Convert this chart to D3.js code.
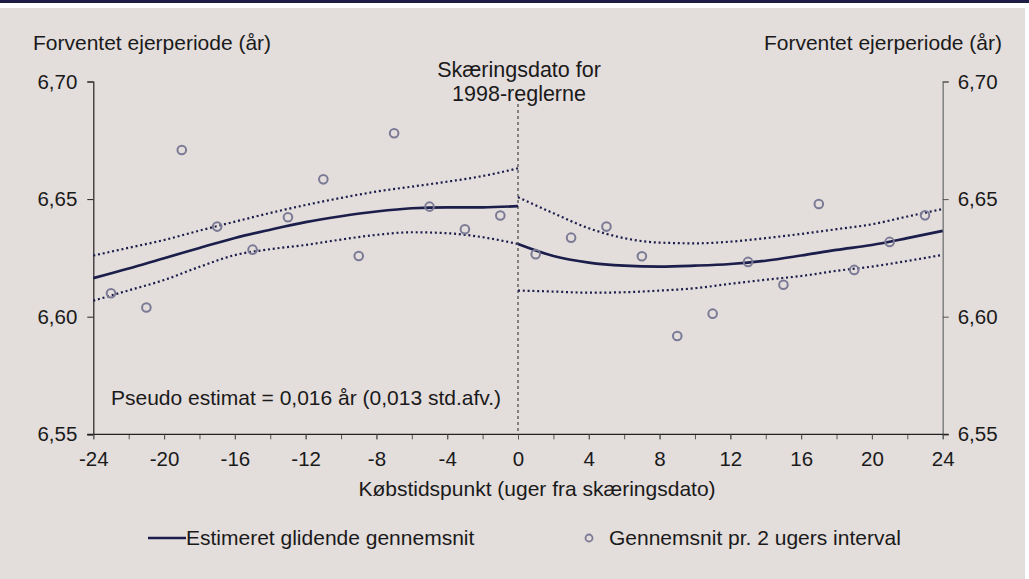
<!DOCTYPE html>
<html>
<head>
<meta charset="utf-8">
<script src="https://cdn.jsdelivr.net/npm/d3@7"></script>
<style>
  html, body { margin: 0; padding: 0; background: #ffffff; }
  svg text { font-family: "Liberation Sans", Arial, sans-serif; fill: #1a1a1a; }
</style>
</head>
<body>
<svg id="chart" width="1029" height="579"></svg>
<script>
// Weeks relative to the cut-off date
const weeksLeft  = [-24, -22, -20, -18, -16, -14, -12, -10, -8, -6, -4, -2, 0];
const weeksRight = [0, 2, 4, 6, 8, 10, 12, 14, 16, 18, 20, 22, 24];

// Estimated moving average with confidence band, before the cut-off
const fitLeft   = [6.6164, 6.6205, 6.6249, 6.6292, 6.6335, 6.6370, 6.6402, 6.6427, 6.6447, 6.6461, 6.6465, 6.6465, 6.6470];
const upperLeft = [6.6260, 6.6293, 6.6326, 6.6366, 6.6404, 6.6441, 6.6475, 6.6505, 6.6532, 6.6553, 6.6574, 6.6598, 6.6631];
const lowerLeft = [6.6068, 6.6112, 6.6156, 6.6212, 6.6262, 6.6287, 6.6305, 6.6328, 6.6348, 6.6359, 6.6355, 6.6338, 6.6309];

// Estimated moving average with confidence band, after the cut-off
const fitRight   = [6.6309, 6.6258, 6.6230, 6.6217, 6.6213, 6.6217, 6.6224, 6.6238, 6.6260, 6.6284, 6.6305, 6.6334, 6.6365];
const upperRight = [6.6508, 6.6440, 6.6376, 6.6334, 6.6315, 6.6312, 6.6319, 6.6334, 6.6352, 6.6372, 6.6393, 6.6426, 6.6458];
const lowerRight = [6.6111, 6.6107, 6.6102, 6.6104, 6.6111, 6.6121, 6.6140, 6.6157, 6.6173, 6.6195, 6.6213, 6.6237, 6.6263];

// Averages per 2-week interval
const intervalWeeks = [-23, -21, -19, -17, -15, -13, -11, -9, -7, -5, -3, -1,
                       1, 3, 5, 7, 9, 11, 13, 15, 17, 19, 21, 23];
const intervalMeans = [6.6100, 6.6039, 6.6709, 6.6383, 6.6285, 6.6423, 6.6584, 6.6258, 6.6780, 6.6468, 6.6372, 6.6430,
                       6.6266, 6.6336, 6.6383, 6.6257, 6.5918, 6.6013, 6.6233, 6.6136, 6.6479, 6.6199, 6.6318, 6.6431];

// Axis ticks
const xTicksMajor = [-24, -20, -16, -12, -8, -4, 0, 4, 8, 12, 16, 20, 24];
const xTicksMinor = d3.range(-24, 25, 2);
const yTicks = [6.55, 6.60, 6.65, 6.70];

const yTitle = "Forventet ejerperiode (år)";
const xTitle = "Købstidspunkt (uger fra skæringsdato)";
const cutoffLines = ["Skæringsdato for", "1998-reglerne"];
const noteText = "Pseudo estimat = 0,016 år (0,013 std.afv.)";
const legendLine = "Estimeret glidende gennemsnit";
const legendDots = "Gennemsnit pr. 2 ugers interval";

const navy = "#1b1d4a";
const dotColor = "#7b7a95";
const bg = "#e3dddc";
const font = "Liberation Sans, Arial, sans-serif";

const svg = d3.select("#chart");

// Frame: dark rule on top, panel background
svg.append("rect").attr("x", 0).attr("y", 0).attr("width", 1029).attr("height", 579).attr("fill", "#ffffff");
svg.append("rect").attr("x", 0).attr("y", 0).attr("width", 1029).attr("height", 3).attr("fill", "#1c1c44");
svg.append("rect").attr("x", 0).attr("y", 8).attr("width", 1025).attr("height", 571).attr("fill", bg);

const x = d3.scaleLinear().domain([-24, 24]).range([93.3, 942.7]);
const y = d3.scaleLinear().domain([6.55, 6.70]).range([434.3, 81.5]);

const fmt = d => d3.format(".2f")(d).replace(".", ",");

// Left y axis
const gL = svg.append("g").attr("transform", `translate(${x(-24)},0)`)
  .call(d3.axisLeft(y).tickValues(yTicks).tickSize(6).tickPadding(10).tickFormat(fmt));
gL.select(".domain").attr("stroke", "#222").attr("stroke-width", 1.2);
gL.selectAll(".tick line").attr("stroke", "#222");
gL.selectAll(".tick text").attr("font-size", 20.5).attr("fill", "#1a1a1a").attr("font-family", font);

// Right y axis
const gR = svg.append("g").attr("transform", `translate(${x(24)},0)`)
  .call(d3.axisRight(y).tickValues(yTicks).tickSize(6).tickPadding(9).tickFormat(fmt));
gR.select(".domain").attr("stroke", "#808080").attr("stroke-width", 1.5);
gR.selectAll(".tick line").attr("stroke", "#555");
gR.selectAll(".tick text").attr("font-size", 20.5).attr("fill", "#1a1a1a").attr("font-family", font);

// Bottom x axis: minor ticks every 2 weeks, labels every 4
const gXm = svg.append("g").attr("transform", `translate(0,${y(6.55)})`)
  .call(d3.axisBottom(x).tickValues(xTicksMinor).tickSize(5).tickFormat(""));
gXm.select(".domain").remove();
gXm.selectAll(".tick line").attr("stroke", "#555");

const gX = svg.append("g").attr("transform", `translate(0,${y(6.55)})`)
  .call(d3.axisBottom(x).tickValues(xTicksMajor).tickSize(5).tickPadding(12).tickFormat(d => d));
gX.select(".domain").attr("d", `M${x(-24) - 6},0H${x(24) + 6}`).attr("stroke", "#222").attr("stroke-width", 1.2);
gX.selectAll(".tick line").attr("stroke", "#555");
gX.selectAll(".tick text").attr("font-size", 20.5).attr("fill", "#1a1a1a").attr("font-family", font);

// Axis titles
svg.append("text").attr("x", 33).attr("y", 50).attr("font-size", 21).text(yTitle);
svg.append("text").attr("x", 1002).attr("y", 50).attr("font-size", 21).attr("text-anchor", "end").text(yTitle);
svg.append("text").attr("x", 537).attr("y", 496).attr("font-size", 21).attr("text-anchor", "middle").text(xTitle);

// Cut-off marker
svg.append("line")
  .attr("x1", x(0)).attr("x2", x(0)).attr("y1", 104).attr("y2", y(6.55))
  .attr("stroke", "#222").attr("stroke-width", 1).attr("stroke-dasharray", "3,3");
svg.append("text").attr("x", x(0) + 1).attr("y", 77).attr("font-size", 21.5).attr("text-anchor", "middle").text(cutoffLines[0]);
svg.append("text").attr("x", x(0) + 1).attr("y", 101).attr("font-size", 21.5).attr("text-anchor", "middle").text(cutoffLines[1]);

// Fitted curves and bands
const line = d3.line().curve(d3.curveMonotoneX);
function drawSeries(weeks, vals, dotted) {
  svg.append("path")
    .attr("d", line(weeks.map((w, i) => [x(w), y(vals[i])])))
    .attr("fill", "none")
    .attr("stroke", navy)
    .attr("stroke-width", dotted ? 2.2 : 2.6)
    .attr("stroke-dasharray", dotted ? "2,2.8" : null);
}
drawSeries(weeksLeft, upperLeft, true);
drawSeries(weeksLeft, lowerLeft, true);
drawSeries(weeksLeft, fitLeft, false);
drawSeries(weeksRight, upperRight, true);
drawSeries(weeksRight, lowerRight, true);
drawSeries(weeksRight, fitRight, false);

// Interval means
svg.append("g").selectAll("circle")
  .data(intervalWeeks.map((w, i) => [w, intervalMeans[i]]))
  .join("circle")
  .attr("cx", d => x(d[0])).attr("cy", d => y(d[1])).attr("r", 4.3)
  .attr("fill", "none").attr("stroke", dotColor).attr("stroke-width", 2);

// Estimate note
svg.append("text").attr("x", 111).attr("y", 405).attr("font-size", 21).text(noteText);

// Legend
svg.append("line").attr("x1", 148).attr("x2", 186).attr("y1", 538).attr("y2", 538)
  .attr("stroke", navy).attr("stroke-width", 2.6);
svg.append("text").attr("x", 186).attr("y", 545).attr("font-size", 21).text(legendLine);
svg.append("circle").attr("cx", 589).attr("cy", 538).attr("r", 3.5)
  .attr("fill", "none").attr("stroke", dotColor).attr("stroke-width", 1.8);
svg.append("text").attr("x", 609).attr("y", 545).attr("font-size", 21).text(legendDots);
</script>
</body>
</html>
